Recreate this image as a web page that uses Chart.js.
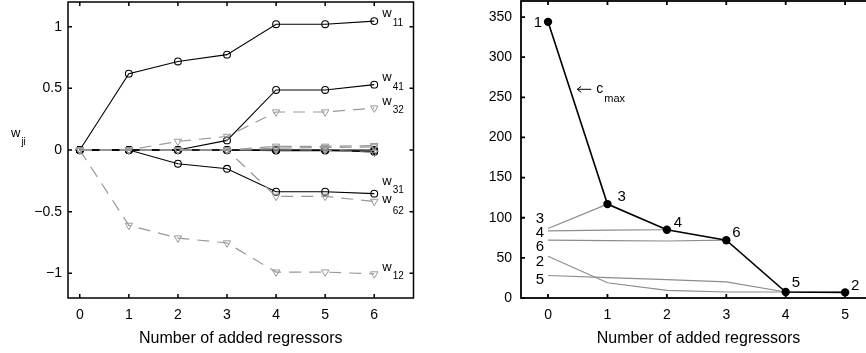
<!DOCTYPE html>
<html>
<head>
<meta charset="utf-8">
<script src="https://cdn.jsdelivr.net/npm/chart.js@4.4.0/dist/chart.umd.min.js"></script>
<style>
html, body { margin: 0; padding: 0; background: #fff; }
#wrap { position: relative; width: 866px; height: 353px; overflow: hidden; }
.box { position: absolute; top: 0; height: 353px; overflow: hidden; }
</style>
</head>
<body>
<div id="wrap">
  <div class="box" style="left:0; width:433px"><canvas id="wChart" width="433" height="353"></canvas></div>
  <div class="box" style="left:433px; width:433px"><canvas id="cChart" width="453" height="353"></canvas></div>
</div>
<script>
// Graphique de gauche : poids w_ji selon le nombre de régresseurs ajoutés
const stepsW = [0, 1, 2, 3, 4, 5, 6];
const xTicksW = [0, 1, 2, 3, 4, 5, 6];
const yTicksW = [-1, -0.5, 0, 0.5, 1];

// premier neurone caché (trait plein noir, cercles)
const w11 = [0, 0.619, 0.718, 0.773, 1.02, 1.02, 1.045];
const w21 = [0, 0, 0, 0, -0.005, -0.005, -0.01];
const w31 = [0, 0, -0.111, -0.152, -0.338, -0.338, -0.354];
const w41 = [0, 0, 0, 0.078, 0.487, 0.487, 0.53];
const w51 = [0, 0, 0, 0, 0, 0, -0.015];
const w61 = [0, 0, 0, 0, 0, 0, 0];
// second neurone caché (tirets gris, triangles)
const w12 = [0, -0.611, -0.714, -0.754, -0.99, -0.99, -1.005];
const w22 = [0, 0, 0, 0, 0.03, 0.03, 0.035];
const w32 = [0, 0, 0.07, 0.11, 0.308, 0.308, 0.34];
const w42 = [0, 0, 0, 0, 0.015, 0.02, 0.025];
const w52 = [0, 0, 0, 0, 0, 0, -0.02];
const w62 = [0, 0, 0, 0, -0.376, -0.376, -0.417];

const wNoms = ['11', '41', '32', '31', '62', '12'];
const wSeries = [w11, w41, w32, w31, w62, w12];

// Graphique de droite : c_j selon le nombre de régresseurs ajoutés
const stepsC = [0, 1, 2, 3, 4, 5];
const xTicksC = [0, 1, 2, 3, 4, 5];
const yTicksC = [0, 50, 100, 150, 200, 250, 300, 350];
const cMax = [344, 117, 85, 72, 7.5, 7];
const cMaxNoms = ['1', '3', '4', '6', '5', '2'];
const c3 = [86.5, 117];
const c4 = [83.5, 84.5, 85];
const c6 = [72, 71.5, 71, 72];
const c2 = [52, 19, 9.5, 7.5, 7.5, 7];
const c5 = [28, 25.5, 23, 20, 7.5];
const cDebutNoms = ['3', '4', '6', '2', '5'];
const cDebut = [c3, c4, c6, c2, c5];

Chart.defaults.font.family = '"Liberation Sans", Arial, Helvetica, sans-serif';
Chart.defaults.font.size = 14;
Chart.defaults.color = '#000';

const GRIS = '#999999';

function pts(xs, ys) {
    return ys.map((v, i) => ({ x: xs[i], y: v }));
}

function moins(v) {
    return v < 0 ? '\u2212' + Math.abs(v) : String(v);
}

// cadre + graduations vers l'intérieur (style matlab)
const cadre = {
    id: 'cadre',
    afterDatasetsDraw(chart, args, opts) {
        const { ctx, chartArea: a, scales: { x, y } } = chart;
        const L = 4;
        ctx.save();
        ctx.strokeStyle = '#000';
        ctx.lineWidth = opts.lw || 1.5;
        ctx.beginPath();
        x.ticks.forEach(t => {
            const px = x.getPixelForValue(t.value);
            ctx.moveTo(px, a.bottom); ctx.lineTo(px, a.bottom - L);
            ctx.moveTo(px, a.top); ctx.lineTo(px, a.top + L);
        });
        y.ticks.forEach(t => {
            const py = y.getPixelForValue(t.value);
            ctx.moveTo(a.left, py); ctx.lineTo(a.left + L, py);
            ctx.moveTo(a.right, py); ctx.lineTo(a.right - L, py);
        });
        ctx.stroke();
        ctx.strokeRect(a.left, a.top, a.right - a.left, a.bottom - a.top);
        ctx.restore();
    }
};

function indice(ctx, base, sub, x, y, dySub, fb, fs) {
    ctx.font = fb + 'px "Liberation Sans", Arial, sans-serif';
    ctx.fillText(base, x, y);
    const w = ctx.measureText(base).width;
    ctx.font = fs + 'px "Liberation Sans", Arial, sans-serif';
    ctx.fillText(sub, x + w + 1, y + dySub);
}

// étiquettes w_ji au bout des courbes + titre vertical
const etiquettesW = {
    id: 'etiquettesW',
    afterDraw(chart) {
        const { ctx, scales: { x, y } } = chart;
        const dyW = [-4, -4, -3, -9, 1.5, -3];
        const dyS = [8.5, 9, 8, 8, 11, 8.5];
        ctx.save();
        ctx.fillStyle = '#000';
        ctx.textBaseline = 'alphabetic';
        ctx.textAlign = 'left';
        wSeries.forEach((s, i) => {
            const px = x.getPixelForValue(stepsW[s.length - 1]) + 8;
            const py = y.getPixelForValue(s[s.length - 1]) + dyW[i];
            indice(ctx, 'w', wNoms[i], px, py, dyS[i], 13, 10);
        });
        indice(ctx, 'w', 'ji', 11, 136.5, 8.5, 13, 10);
        ctx.restore();
    }
};

// étiquettes numériques du graphique de droite
const etiquettesC = {
    id: 'etiquettesC',
    afterDraw(chart) {
        const { ctx, scales: { x, y } } = chart;
        ctx.save();
        ctx.fillStyle = '#000';
        ctx.font = '15px "Liberation Sans", Arial, sans-serif';
        ctx.textBaseline = 'middle';
        const dx = [-6, 10, 7, 6, 6, 6];
        const dy = [1, -7, -6.5, -7.5, -9, -7];
        cMax.forEach((v, i) => {
            ctx.textAlign = i === 0 ? 'right' : 'left';
            ctx.fillText(cMaxNoms[i], x.getPixelForValue(stepsC[i]) + dx[i], y.getPixelForValue(v) + dy[i]);
        });
        const dyD = [-10, 1.5, 7, 6, 4];
        ctx.textAlign = 'right';
        cDebut.forEach((s, i) => {
            ctx.fillText(cDebutNoms[i], x.getPixelForValue(stepsC[0]) - 4, y.getPixelForValue(s[0]) + dyD[i]);
        });
        // flèche c_max
        ctx.textAlign = 'left';
        ctx.textBaseline = 'alphabetic';
        const ax = x.getPixelForValue(0.5) - 0.5;
        const ay = y.getPixelForValue(260);
        ctx.strokeStyle = '#000';
        ctx.lineWidth = 1;
        ctx.beginPath();
        ctx.moveTo(ax, ay); ctx.lineTo(ax + 14, ay);
        ctx.moveTo(ax + 4, ay - 3); ctx.lineTo(ax, ay); ctx.lineTo(ax + 4, ay + 3);
        ctx.stroke();
        indice(ctx, 'c', 'max', ax + 19, ay + 4, 9, 14, 11);
        indice(ctx, 'c', 'j', 458, 136.5, 9, 14, 11);
        ctx.restore();
    }
};

// pas de marge automatique pour les étiquettes des extrémités
function sansMarge(s) {
    s.paddingTop = 0; s.paddingBottom = 0; s.paddingLeft = 0; s.paddingRight = 0;
}

function axeX(ticks, min, max) {
    return {
        type: 'linear', min: min, max: max,
        afterBuildTicks: s => { s.ticks = ticks.map(v => ({ value: v })); },
        afterFit: s => { s.height = 55; sansMarge(s); },
        grid: { display: false, drawTicks: false },
        border: { display: false },
        ticks: { padding: 9, font: { size: 14 } },
        title: { display: true, text: 'Number of added regressors', font: { size: 16 }, padding: { top: 0, bottom: 5 } }
    };
}

function axeY(ticks, min, max, largeur, pad) {
    return {
        type: 'linear', min: min, max: max,
        afterBuildTicks: s => { s.ticks = ticks.map(v => ({ value: v })); },
        afterFit: s => { s.width = largeur; sansMarge(s); },
        grid: { display: false, drawTicks: false },
        border: { display: false },
        ticks: { padding: pad, font: { size: 14 }, callback: moins }
    };
}

const dsW = [];
[w12, w22, w32, w42, w52, w62].forEach(s => dsW.push({
    data: pts(stepsW, s),
    borderColor: GRIS, borderWidth: 1.2, borderDash: [12, 8],
    pointStyle: 'triangle', rotation: 180, pointRadius: 4.3,
    pointBorderColor: GRIS, pointBackgroundColor: 'rgba(0,0,0,0)', pointBorderWidth: 1
}));
[w11, w21, w31, w41, w51, w61].forEach(s => dsW.push({
    data: pts(stepsW, s),
    borderColor: '#000', borderWidth: 1.1,
    pointStyle: 'circle', pointRadius: 3.4,
    pointBorderColor: '#000', pointBackgroundColor: 'rgba(0,0,0,0)', pointBorderWidth: 1.1
}));

new Chart(document.getElementById('wChart'), {
    type: 'line',
    data: { datasets: dsW },
    options: {
        responsive: false, animation: false,
        layout: { autoPadding: false, padding: { top: 2, right: 19.5, left: 0, bottom: 0 } },
        plugins: { legend: { display: false }, tooltip: { enabled: false }, cadre: { lw: 1.5 } },
        scales: { x: axeX(xTicksW, -0.24, 6.8), y: axeY(yTicksW, -1.2, 1.2, 68, 6) }
    },
    plugins: [cadre, etiquettesW]
});

const dsC = [{
    data: pts(stepsC, cMax),
    borderColor: '#000', borderWidth: 1.6,
    pointStyle: 'circle', pointRadius: 4.2,
    pointBorderColor: '#000', pointBackgroundColor: '#000', pointBorderWidth: 0
}];
cDebut.forEach(s => dsC.push({
    data: pts(stepsC, s),
    borderColor: '#8c8c8c', borderWidth: 1.2, pointRadius: 0
}));

new Chart(document.getElementById('cChart'), {
    type: 'line',
    data: { datasets: dsC },
    options: {
        responsive: false, animation: false,
        layout: { autoPadding: false, padding: { top: 1, right: 10, left: 0, bottom: 0 } },
        plugins: { legend: { display: false }, tooltip: { enabled: false }, cadre: { lw: 1.8 } },
        scales: { x: axeX(xTicksC, -0.455, 5.52), y: axeY(yTicksC, 0, 370, 88, 9) }
    },
    plugins: [cadre, etiquettesC]
});
</script>
</body>
</html>
